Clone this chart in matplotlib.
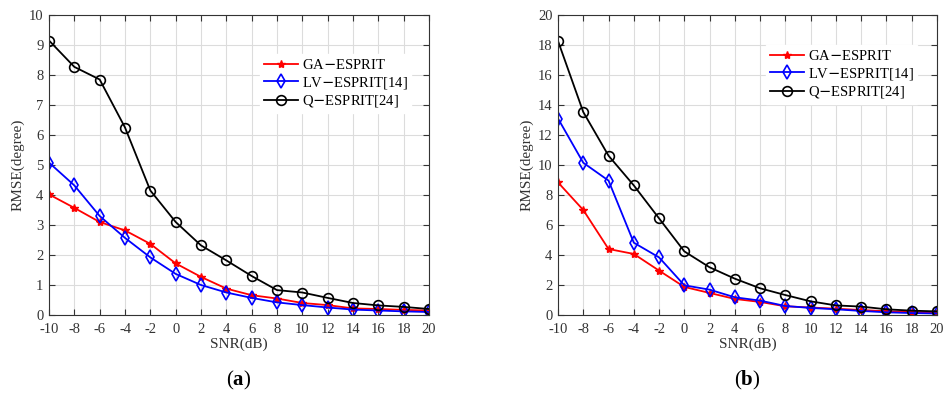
import numpy as np
import matplotlib
matplotlib.use("Agg")
import matplotlib.pyplot as plt

plt.rcParams['font.family'] = ['Liberation Serif', 'DejaVu Serif']
plt.rcParams['mathtext.fontset'] = 'custom'
plt.rcParams['mathtext.bf'] = 'Liberation Serif:bold'
plt.rcParams['axes.unicode_minus'] = False

snr = [-10, -8, -6, -4, -2, 0, 2, 4, 6, 8, 10, 12, 14, 16, 18, 20]

# (a)
ga_a = [4.02, 3.57, 3.1, 2.82, 2.37, 1.72, 1.27, 0.88, 0.66, 0.55, 0.4, 0.33, 0.22, 0.2, 0.17, 0.15]
lv_a = [5.08, 4.32, 3.3, 2.57, 1.92, 1.37, 1.0, 0.75, 0.57, 0.42, 0.33, 0.25, 0.18, 0.15, 0.12, 0.1]
q_a = [9.15, 8.27, 7.85, 6.25, 4.15, 3.1, 2.32, 1.82, 1.3, 0.83, 0.75, 0.57, 0.4, 0.32, 0.27, 0.2]

# (b)
ga_b = [8.84, 7.0, 4.4, 4.07, 2.96, 1.87, 1.47, 1.07, 0.87, 0.58, 0.5, 0.42, 0.33, 0.25, 0.2, 0.18]
lv_b = [13.1, 10.15, 8.96, 4.82, 3.84, 1.98, 1.69, 1.18, 0.96, 0.6, 0.47, 0.38, 0.27, 0.18, 0.13, 0.1]
q_b = [18.27, 13.53, 10.62, 8.64, 6.44, 4.24, 3.18, 2.42, 1.78, 1.33, 0.91, 0.64, 0.56, 0.38, 0.29, 0.24]

labels = ['GA$-$ESPRIT', 'LV$-$ESPRIT[14]', 'Q$-$ESPRIT[24]']

fig = plt.figure(figsize=(9.49, 3.94), dpi=100)
ax1 = fig.add_axes([49/949, 1 - 315/394, 380/949, 300/394])
ax2 = fig.add_axes([558/949, 1 - 315/394, 379/949, 300/394])


def draw(ax, ga, lv, q, ymax, ystep, leg_pos, tag):
    ax.plot(snr, ga, color='red', marker='*', markersize=6, lw=1.3, label=labels[0])
    ax.plot(snr, lv, color='blue', marker='d', markersize=7, mfc='none', mew=1.2, lw=1.3, label=labels[1])
    ax.plot(snr, q, color='black', marker='o', markersize=7, mfc='none', mew=1.2, lw=1.3, label=labels[2])
    ax.set_xlim(-10, 20)
    ax.set_ylim(0, ymax)
    ax.set_xticks(np.arange(-10, 21, 2))
    ax.set_yticks(np.arange(0, ymax + 0.1, ystep))
    ax.grid(True, color='#dcdcdc', lw=0.8)
    ax.set_axisbelow(True)
    ax.tick_params(direction='in', top=True, right=True, labelsize=10.5, colors='#333333',
                   length=4)
    ax.tick_params(axis='x', pad=6)
    ax.tick_params(axis='y', pad=4)
    for s in ax.spines.values():
        s.set_color('#333333')
        s.set_linewidth(0.8)
    ax.set_xlabel('SNR(dB)', fontsize=11, color='#333333', labelpad=1)
    ax.set_ylabel('RMSE(degree)', fontsize=11, color='#333333', labelpad=3)
    ax.legend(loc='upper left', bbox_to_anchor=leg_pos, fontsize=10.5, frameon=True,
              fancybox=False, edgecolor='white', framealpha=1, handlelength=2.35,
              borderpad=0.25, labelspacing=0.2, handletextpad=0.27, borderaxespad=0)
    ax.text(0.5, -0.217, tag, transform=ax.transAxes, ha='center', va='center', fontsize=15)


draw(ax1, ga_a, lv_a, q_a, 10, 1, (0.555, 0.87), r'($\mathbf{a}$)')
draw(ax2, ga_b, lv_b, q_b, 20, 2, (0.549, 0.9), r'($\mathbf{b}$)')

fig.savefig('out.png', dpi=100)
